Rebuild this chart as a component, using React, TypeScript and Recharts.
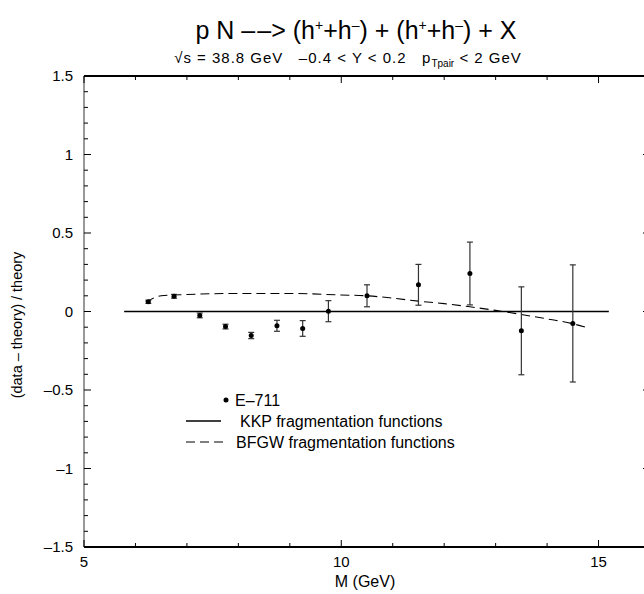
import React from 'react';
import {ComposedChart, Line, Scatter, ErrorBar, XAxis, YAxis, ReferenceLine} from 'recharts';

// E-711 measurements: pair mass (GeV), (data - theory)/theory, stat. error
const massPoints = [6.25, 6.75, 7.25, 7.75, 8.25, 8.75, 9.25, 9.75, 10.5, 11.5, 12.5, 13.5, 14.5];
const ratioValues = [0.062, 0.097, -0.025, -0.096, -0.153, -0.091, -0.108, 0.002, 0.1, 0.17, 0.242, -0.123, -0.076];
const ratioErrors = [0.01, 0.012, 0.015, 0.015, 0.02, 0.035, 0.05, 0.067, 0.07, 0.13, 0.2, 0.28, 0.373];

// KKP fragmentation functions (reference line)
const kkpMass = [5.78, 15.2];
const kkpValues = [0, 0];

// BFGW fragmentation functions
const bfgwMass = [6.2, 6.5, 7, 8, 9, 10, 10.5, 11, 11.5, 12, 12.5, 13, 13.5, 14, 14.5, 14.75];
const bfgwValues = [0.06, 0.1, 0.108, 0.115, 0.115, 0.105, 0.1, 0.085, 0.066, 0.05, 0.03, 0.007, -0.019, -0.047, -0.078, -0.1];

const xTicks = [5, 6, 7, 8, 9, 10, 11, 12, 13, 14, 15, 16];
const xLabels = [5, 10, 15];
const yTicks = [-1.5, -1.4, -1.3, -1.2, -1.1, -1, -0.9, -0.8, -0.7, -0.6, -0.5, -0.4, -0.3, -0.2, -0.1, 0,
    0.1, 0.2, 0.3, 0.4, 0.5, 0.6, 0.7, 0.8, 0.9, 1, 1.1, 1.2, 1.3, 1.4, 1.5];
const yLabels = [-1.5, -1, -0.5, 0, 0.5, 1, 1.5];

const e711Data = massPoints.map((x, i) => ({x, y: ratioValues[i], err: ratioErrors[i]}));
const kkpData = kkpMass.map((x, i) => ({x, y: kkpValues[i]}));
const bfgwData = bfgwMass.map((x, i) => ({x, y: bfgwValues[i]}));

const FONT = '"Liberation Sans", Arial, Helvetica, sans-serif';

// plot frame layout
const CHART_W = 650;
const CHART_H = 594;
const PLOT_TOP = 76;
const PLOT_RIGHT = 650;

const fmtY = (v: number) => (v < 0 ? '\u2013' + String(-v) : String(v));

// ticks point inward, mirrored on top / right of the frame
const BottomTick = (props: any) => {
    const {x, y, payload} = props;
    const major = xLabels.includes(payload.value);
    const len = major ? 7 : 4;
    return (
        <g>
            <line x1={x} y1={y} x2={x} y2={y - len} stroke="#000"/>
            <line x1={x} y1={PLOT_TOP} x2={x} y2={PLOT_TOP + len} stroke="#000"/>
            {major && (
                <text x={x} y={y + 20} textAnchor="middle" fontSize={15} fontFamily={FONT} fill="#000">
                    {payload.value}
                </text>
            )}
        </g>
    );
};

const LeftTick = (props: any) => {
    const {x, y, payload} = props;
    const major = yLabels.includes(payload.value);
    const len = major ? 7 : 4;
    return (
        <g>
            <line x1={x} y1={y} x2={x + len} y2={y} stroke="#000"/>
            <line x1={PLOT_RIGHT} y1={y} x2={PLOT_RIGHT - len} y2={y} stroke="#000"/>
            {major && (
                <text x={x - 11} y={y} dy="0.35em" textAnchor="end" fontSize={15} fontFamily={FONT} fill="#000">
                    {fmtY(payload.value)}
                </text>
            )}
        </g>
    );
};

const Dot = (props: any) => <circle cx={props.cx} cy={props.cy} r={2.5} fill="#000"/>;

const supStyle = {fontSize: 14};

export default function App() {
    return (
        <div style={{position: 'absolute', left: 0, top: 0, width: 644, height: 594, overflow: 'hidden', background: '#fff', fontFamily: FONT}}>
            <div style={{position: 'absolute', left: 356, top: 12, transform: 'translateX(-50%)', whiteSpace: 'pre', fontSize: 25, lineHeight: '26px'}}>
                {'p N \u2013\u200A\u2013> (h'}<sup style={supStyle}>+</sup>{'+h'}<sup style={supStyle}>–</sup>{') + (h'}<sup style={supStyle}>+</sup>{'+h'}<sup style={supStyle}>–</sup>{') + X'}
            </div>
            <div style={{position: 'absolute', left: 348, top: 50, transform: 'translateX(-50%)', whiteSpace: 'pre', fontSize: 15, letterSpacing: 1, lineHeight: '16px'}}>
                {'√s = 38.8 GeV   –0.4 < Y < 0.2   p'}<sub style={{fontSize: 10, letterSpacing: 0}}>Tpair</sub>{' < 2 GeV'}
            </div>
            <div style={{position: 'absolute', left: 365, top: 573, transform: 'translateX(-50%)', whiteSpace: 'pre', fontSize: 16, lineHeight: '18px'}}>
                M (GeV)
            </div>
            <div style={{position: 'absolute', left: 17, top: 325, transform: 'translate(-50%, -50%) rotate(-90deg)', whiteSpace: 'pre', fontSize: 14.5, lineHeight: '16px'}}>
                (data – theory) / theory
            </div>
            <svg style={{position: 'absolute', left: 180, top: 388}} width={300} height={66} fontFamily={FONT} fontSize={16}>
                <circle cx={46} cy={12} r={2.5} fill="#000"/>
                <text x={55} y={12} dy="0.35em">E–711</text>
                <line x1={6} y1={33} x2={41} y2={33} stroke="#000" strokeWidth={1.3}/>
                <text x={60} y={33} dy="0.35em">KKP fragmentation functions</text>
                <line x1={6} y1={54} x2={44} y2={54} stroke="#000" strokeWidth={1.1} strokeDasharray="9 5"/>
                <text x={56} y={54} dy="0.35em">BFGW fragmentation functions</text>
            </svg>

            <div style={{position: 'absolute', left: 0, top: 0}}>
                <ComposedChart width={CHART_W} height={CHART_H} data={e711Data} margin={{top: PLOT_TOP, right: 0, bottom: 17, left: 24}}>
                    <XAxis dataKey="x" type="number" domain={[5, 16]} ticks={xTicks} interval={0}
                           allowDataOverflow height={30} tickSize={0} tickMargin={0} tickLine={false}
                           axisLine={{stroke: '#000', strokeWidth: 2}} tick={<BottomTick/>}/>
                    <YAxis dataKey="y" type="number" domain={[-1.5, 1.5]} ticks={yTicks} interval={0}
                           allowDataOverflow width={60} tickSize={0} tickMargin={0} tickLine={false}
                           axisLine={{stroke: '#333', strokeWidth: 1}} tick={<LeftTick/>}/>

                    <ReferenceLine y={1.5} stroke="#000" strokeWidth={2} ifOverflow="visible"/>
                    <Line data={kkpData} dataKey="y" type="linear"
                          stroke="#000" strokeWidth={1.6} dot={false} isAnimationActive={false}/>
                    <Line data={bfgwData} dataKey="y" type="monotone"
                          stroke="#000" strokeWidth={1.1} strokeDasharray="9 5" dot={false} isAnimationActive={false}/>
                    <Scatter data={e711Data} dataKey="y" shape={<Dot/>} isAnimationActive={false}>
                        <ErrorBar dataKey="err" direction="y" width={3} stroke="#333" strokeWidth={1.2} isAnimationActive={false}/>
                    </Scatter>
                </ComposedChart>
            </div>
            <div style={{position: 'absolute', left: 84, top: PLOT_TOP - 1, width: 644 - 84, height: 0, borderTop: '2px solid #000'}}/>
        </div>
    );
}
